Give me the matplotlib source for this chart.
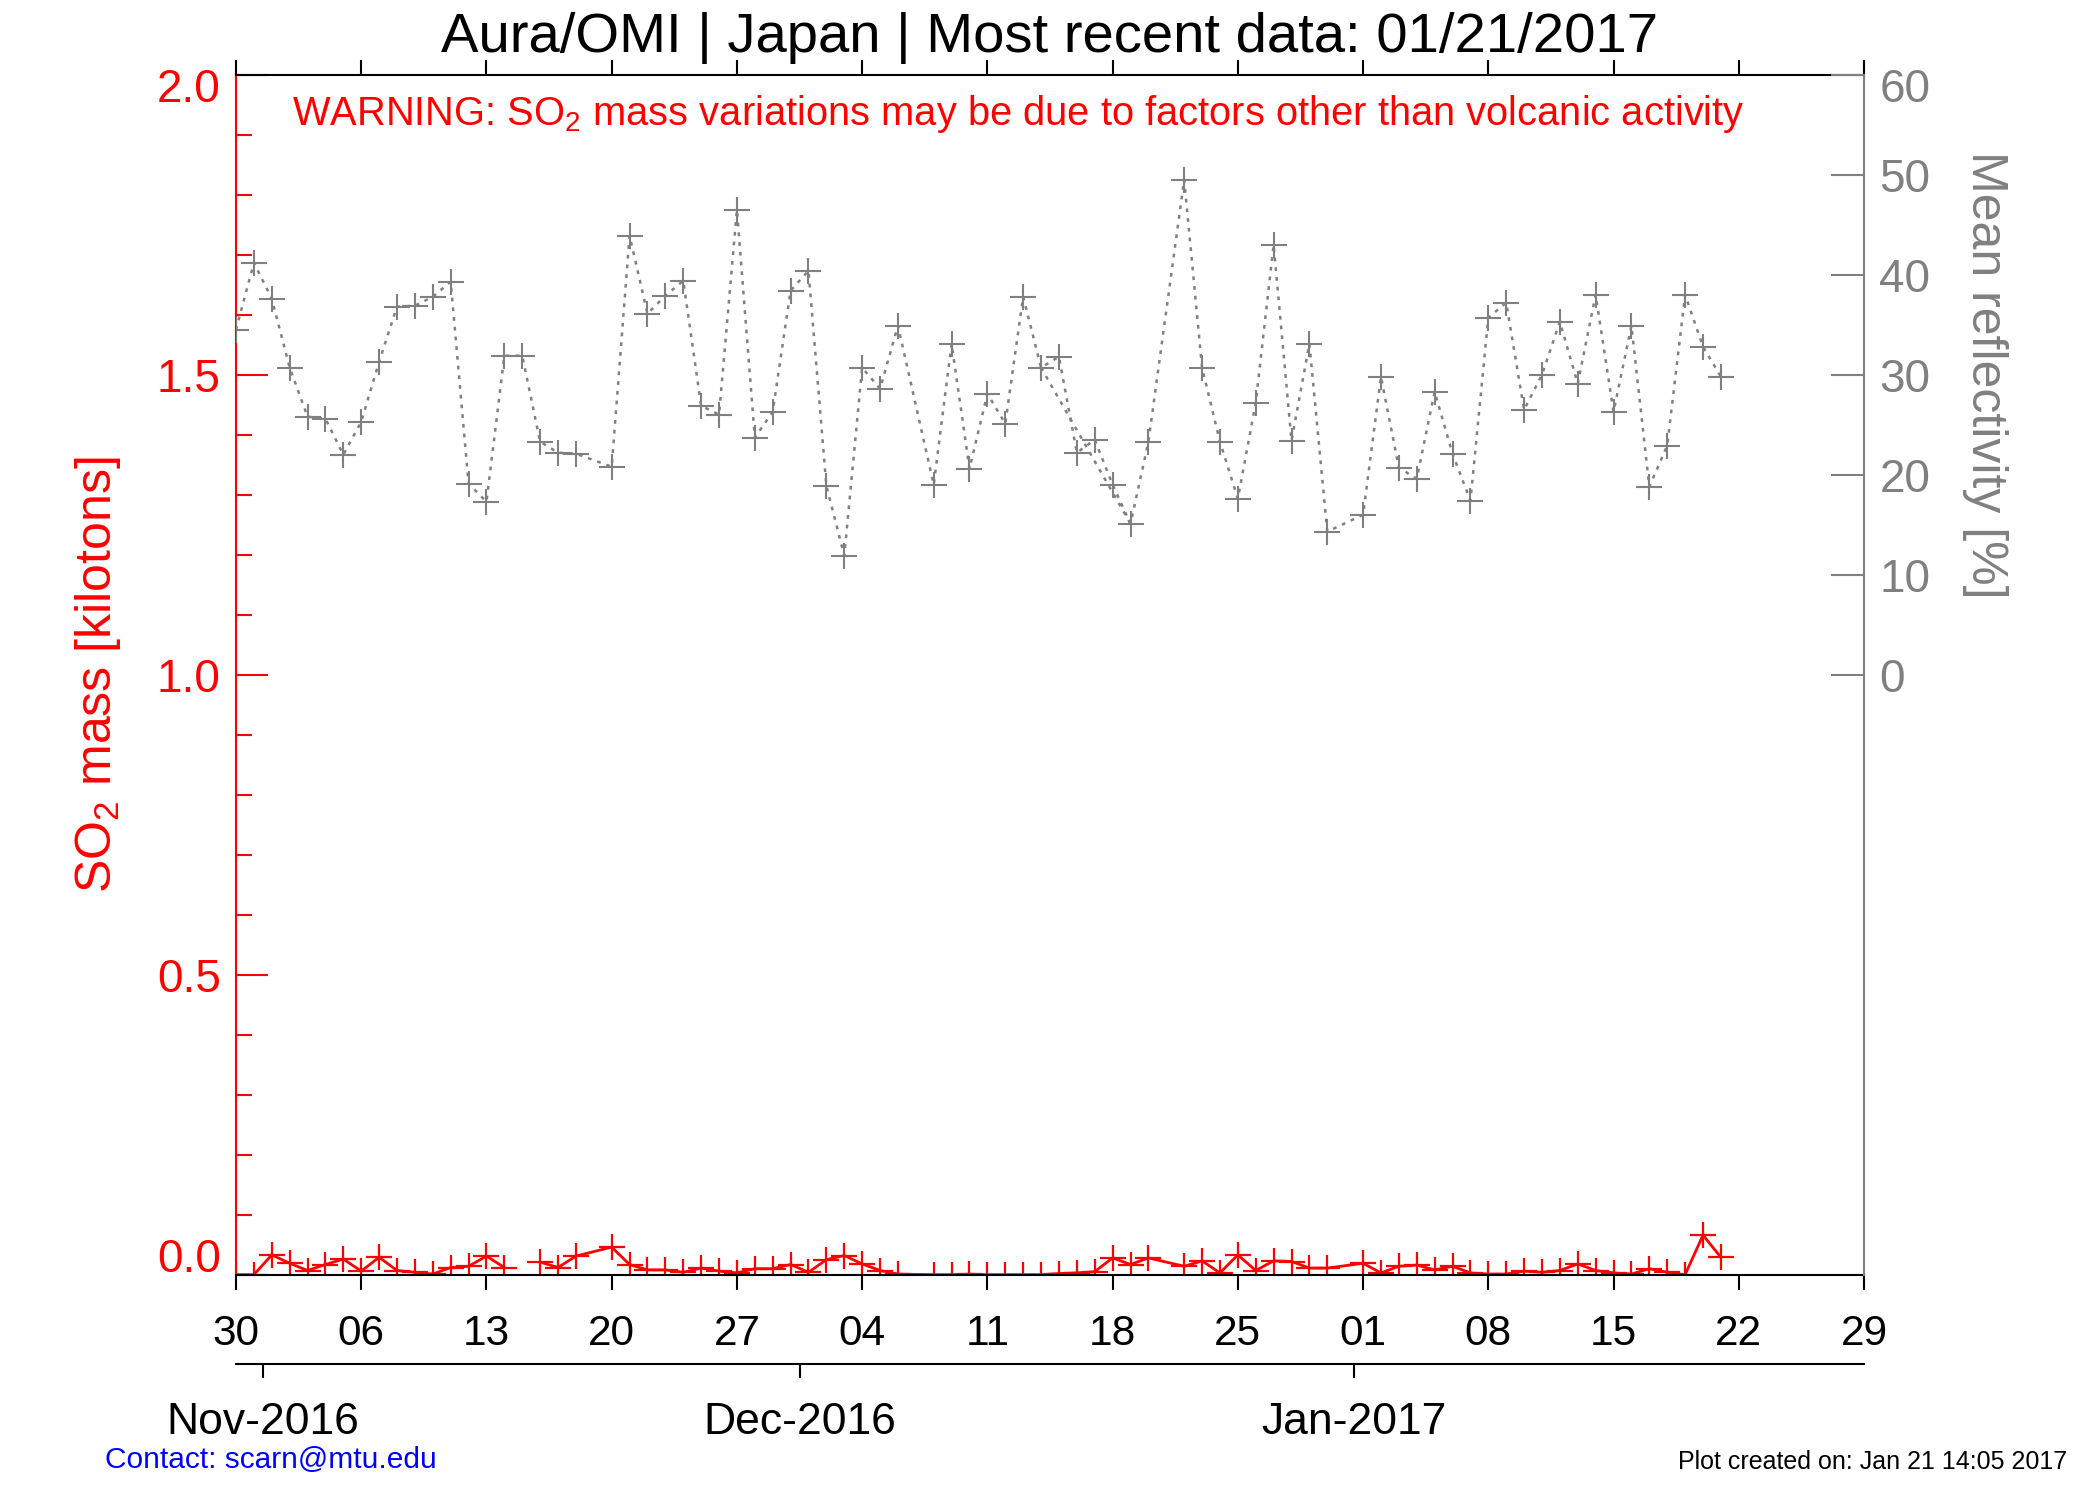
import numpy as np
import matplotlib
matplotlib.use('Agg')
import matplotlib.pyplot as plt
from matplotlib.ticker import MultipleLocator, FixedLocator
from matplotlib.transforms import ScaledTranslation

plt.rcParams['font.family'] = ['Liberation Sans', 'DejaVu Sans']
plt.rcParams['mathtext.default'] = 'regular'

RED, GRAY, BLUE = '#ff0000', '#808080', '#0000ff'

# --- Data (day offsets from 30 Oct 2016, noon) ---
days = [0, 1, 2, 3, 4, 5, 6, 7, 8, 9, 10, 11, 12, 13, 14, 15, 16, 17, 18, 19,
        21, 22, 23, 24, 25, 26, 27, 28, 29, 30, 31, 32, 33, 34, 35, 36, 37,
        39, 40, 41, 42, 43, 44, 45, 46, 47, 48, 49, 50, 51,
        53, 54, 55, 56, 57, 58, 59, 60, 61,
        63, 64, 65, 66, 67, 68, 69, 70, 71, 72, 73, 74, 75, 76, 77, 78, 79,
        80, 81, 82, 83]

reflectivity = [34.5, 41.2, 37.6, 30.7, 25.8, 25.6, 22.0, 25.3, 31.3, 36.8,
                36.9, 37.8, 39.3, 19.1, 17.3, 31.9, 31.9, 23.3, 22.2, 22.1,
                20.8, 43.9, 36.1, 37.9, 39.4, 26.9, 26.0, 46.5, 23.7, 26.3,
                38.4, 40.4, 18.9, 11.9, 30.7, 28.6, 34.9,
                19.0, 33.1, 20.6, 28.1, 25.1, 37.8, 30.7, 31.8, 22.2, 23.5,
                19.0, 15.1, 23.3,
                49.5, 30.7, 23.3, 17.6, 27.2, 43.0, 23.4, 33.1, 14.3,
                16.0, 29.8, 20.7, 19.6, 28.3, 22.1, 17.4, 35.7, 37.2, 26.5,
                30.0, 35.3, 29.1, 38.0, 26.3, 34.9, 18.8, 22.9, 38.0, 32.8,
                29.8]

so2_mass = [0.0, 0.0, 0.033, 0.019, 0.007, 0.017, 0.026, 0.006, 0.029, 0.007,
            0.004, 0.001, 0.012, 0.014, 0.031, 0.012, np.nan, 0.021, 0.012, 0.031,
            0.046, 0.017, 0.008, 0.008, 0.004, 0.011, 0.006, 0.003, 0.010, 0.010,
            0.017, 0.004, 0.025, 0.032, 0.018, 0.007, 0.001,
            0.0, 0.0, 0.001, 0.0, 0.0, 0.0, 0.0, 0.002, 0.003, 0.005,
            0.028, 0.017, 0.028,
            0.014, 0.023, 0.003, 0.033, 0.007, 0.023, 0.022, 0.011, 0.011,
            0.019, 0.003, 0.014, 0.016, 0.008, 0.014, 0.003, 0.001, 0.001, 0.006,
            0.004, 0.007, 0.018, 0.007, 0.003, 0.001, 0.010, 0.004, 0.0, 0.066,
            0.029]

week_ticks = list(range(0, 92, 7))
week_labels = ['30', '06', '13', '20', '27', '04', '11', '18', '25', '01',
               '08', '15', '22', '29']
month_ticks = [1.5, 31.5, 62.5]
month_labels = ['Nov-2016', 'Dec-2016', 'Jan-2017']

# --- Plot ---
fig = plt.figure(figsize=(21, 15), dpi=100)
ax = fig.add_axes([236 / 2100, 1 - 1274.7 / 1500, 1628 / 2100, 1200 / 1500])
ax2 = ax.twinx()

ax.plot(days, so2_mass, '-', color=RED, lw=2.0, marker='+', ms=19, mew=1.6)

ax2.plot(days, reflectivity, color=GRAY, lw=1.8, dashes=(1.5, 2.4),
         marker='+', ms=19, mew=1.5)
# IDL output also joins these two orbits directly
i45, i50 = days.index(45), days.index(50)
ax2.plot([days[i45], days[i50]], [reflectivity[i45], reflectivity[i50]],
         color=GRAY, lw=1.8, dashes=(1.5, 2.4))

ax.set_xlim(0, 91)
ax.set_ylim(0, 2.0)
ax2.set_ylim(-60, 60)

# spines
for s in ['top', 'bottom']:
    ax.spines[s].set_color('black')
    ax.spines[s].set_linewidth(1.5)
ax.spines['left'].set_color(RED)
ax.spines['left'].set_linewidth(1.5)
ax.spines['right'].set_visible(False)
for s in ['left', 'top', 'bottom']:
    ax2.spines[s].set_visible(False)
ax2.spines['right'].set_color(GRAY)
ax2.spines['right'].set_linewidth(1.5)

# x axis (days)
ax.set_xticks(week_ticks)
ax.set_xticklabels(week_labels)
ax.tick_params(axis='x', which='major', direction='out', top=True, bottom=True,
               length=10.5, width=1.5, labelsize=30.5, pad=18, colors='black')

# months axis underneath
sec = ax.secondary_xaxis(-0.0747)
sec.set_xticks(month_ticks)
sec.set_xticklabels(month_labels)
sec.spines['bottom'].set_linewidth(1.5)
sec.tick_params(axis='x', direction='out', length=10, width=1.5,
                labelsize=32, pad=17)

# left y axis
ax.yaxis.set_major_locator(FixedLocator([0.0, 0.5, 1.0, 1.5, 2.0]))
ax.yaxis.set_minor_locator(MultipleLocator(0.1))
ax.yaxis.set_major_formatter(plt.FormatStrFormatter('%.1f'))
ax.tick_params(axis='y', which='major', direction='in', length=23, width=1.5,
               colors=RED, labelsize=33, pad=11)
ax.tick_params(axis='y', which='minor', direction='in', length=11.5, width=1.5,
               colors=RED)

# right y axis
ax2.yaxis.set_major_locator(FixedLocator(list(range(0, 61, 10))))
ax2.tick_params(axis='y', which='major', direction='in', length=24, width=1.5,
                colors=GRAY, labelsize=33, pad=11)

fig.canvas.draw()
up = ScaledTranslation(0, 0.07, fig.dpi_scale_trans)
down = ScaledTranslation(0, -0.07, fig.dpi_scale_trans)
lt = ax.get_yticklabels()
lt[0].set_va('bottom')
lt[0].set_transform(lt[0].get_transform() + down)
lt[-1].set_va('top')
lt[-1].set_transform(lt[-1].get_transform() + up)
rt = ax2.get_yticklabels()
rt[-1].set_va('top')
rt[-1].set_transform(rt[-1].get_transform() + up)

# texts
fig.text(0.5, 1 - 52 / 1500, 'Aura/OMI | Japan | Most recent data: 01/21/2017',
         ha='center', va='baseline', fontsize=40.5)
fig.text(292 / 2100, 1 - 125 / 1500,
         'WARNING: SO$_2$ mass variations may be due to factors other than volcanic activity',
         ha='left', va='baseline', fontsize=28.7, color=RED)
fig.text(98 / 2100, 1 - 674.7 / 1500, 'SO$_2$ mass [kilotons]', rotation=90,
         ha='center', va='center', fontsize=36, color=RED)
fig.text(1985 / 2100, 1 - 375 / 1500, 'Mean reflectivity [%]', rotation=-90,
         ha='center', va='center', fontsize=36, color=GRAY)
fig.text(105 / 2100, 1 - 1468 / 1500, 'Contact: scarn@mtu.edu',
         ha='left', va='baseline', fontsize=21.5, color=BLUE)
fig.text(2067 / 2100, 1 - 1469 / 1500, 'Plot created on: Jan 21 14:05 2017',
         ha='right', va='baseline', fontsize=18, color='black')

fig.savefig('out.png', dpi=100)
